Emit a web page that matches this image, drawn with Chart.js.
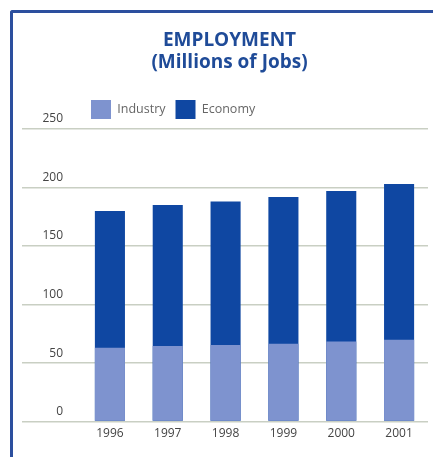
<!DOCTYPE html>
<html>
<head>
<meta charset="utf-8">
<script src="https://cdn.jsdelivr.net/npm/chart.js@4"></script>
<style>
  html, body { margin: 0; padding: 0; background: #fff; }
  body { width: 433px; height: 457px; overflow: hidden; position: relative; }
  #frame {
    position: absolute; left: 10px; top: 10px; width: 430px; height: 450px;
    border-top: 3px solid #2c4f9e; border-left: 3px solid #2c4f9e;
    border-top-left-radius: 3px;
  }
  #chart { display: block; }
</style>
</head>
<body>
<div id="frame"><canvas id="chart" width="420" height="444"></canvas></div>
<script>
// data
const years = ['1996', '1997', '1998', '1999', '2000', '2001'];
const industry = [63, 64.5, 65.5, 66.5, 68.5, 70];
const economy = [180, 185, 188, 192, 197, 203];
const yTicks = [0, 50, 100, 150, 200, 250];

const ctx = document.getElementById('chart').getContext('2d');
new Chart(ctx, {
    type: 'bar',
    data: {
        labels: years,
        datasets: [
            { label: 'Industry', data: industry, backgroundColor: '#7e93cf' },
            { label: 'Economy', data: economy, backgroundColor: '#0f47a2' }
        ]
    },
    options: {
        responsive: false,
        animation: false,
        layout: { padding: { left: 18, right: 5, top: 0, bottom: 11 } },
        datasets: {
            bar: { barPercentage: 0.52, categoryPercentage: 1 }
        },
        plugins: {
            title: {
                display: true,
                text: ['EMPLOYMENT', '(Millions of Jobs)'],
                color: '#1f4b98',
                font: { family: 'Open Sans', size: 19, weight: 'bold', lineHeight: '22px' },
                padding: { top: 17, bottom: 16 }
            },
            legend: {
                position: 'top',
                align: 'start',
                fullSize: false,
                labels: {
                    boxWidth: 20,
                    boxHeight: 19,
                    padding: 10,
                    color: '#666',
                    font: { family: 'Open Sans', size: 12.5 }
                }
            },
            tooltip: { enabled: false }
        },
        scales: {
            x: {
                stacked: true,
                grid: { display: false, drawTicks: false },
                border: { display: false },
                ticks: { color: '#444', padding: 5, font: { family: 'Open Sans', size: 12 } }
            },
            y: {
                stacked: false,
                min: 0,
                max: 250,
                afterBuildTicks: function(scale) {
                    scale.ticks = yTicks.map(v => ({ value: v }));
                },
                afterFit: function(scale) { scale.width = 50; },
                grid: { color: '#c9cfc3', lineWidth: 1.5, tickLength: 59, tickColor: '#c9cfc3' },
                border: { display: false },
                ticks: {
                    color: '#444',
                    padding: -41,
                    labelOffset: -10,
                    font: { family: 'Open Sans', size: 12 }
                }
            }
        }
    }
});
</script>
</body>
</html>
